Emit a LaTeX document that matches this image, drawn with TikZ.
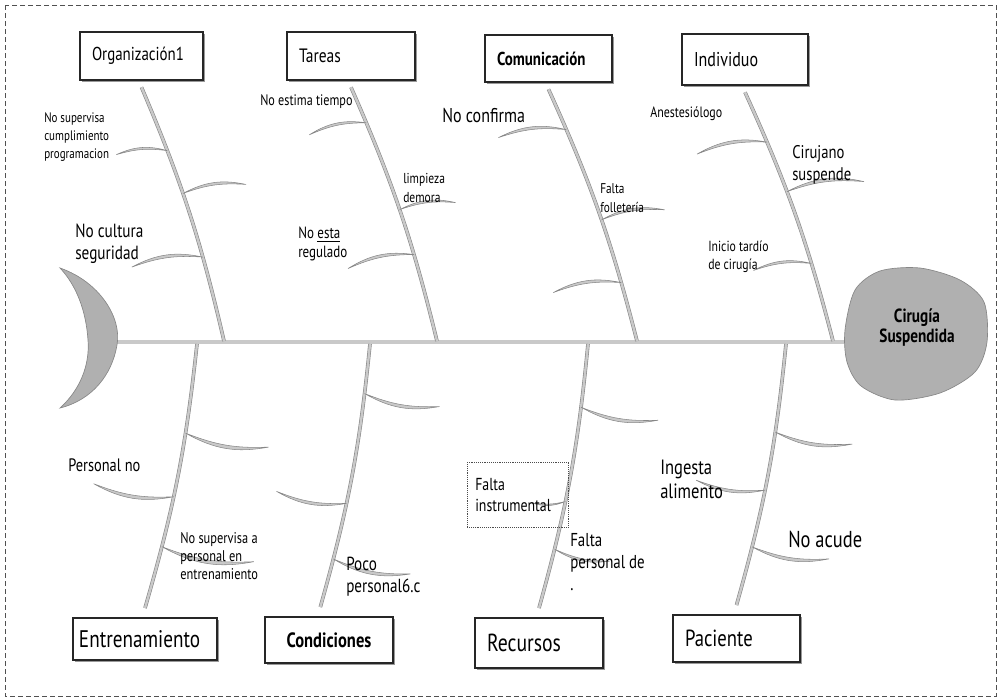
\documentclass[tikz,border=0pt]{standalone}
\usepackage{fontspec}
\setmainfont{PT Sans}[FakeStretch=0.8]
\definecolor{BoneFill}{RGB}{201,201,201}
\definecolor{BoneLine}{RGB}{135,135,135}
\definecolor{HeadFill}{RGB}{176,176,176}
\definecolor{FrameGray}{RGB}{80,80,80}
\usetikzlibrary{positioning,shadows}

\begin{document}
\begin{tikzpicture}[x=0.75pt,y=-0.75pt,
  catbox/.style={draw=black!85,fill=white,line width=0.9pt,inner xsep=9pt,inner ysep=0pt,align=left,
    general shadow={fill=black!40,shadow xshift=1.5pt,shadow yshift=-1.5pt}},
  bone/.style={draw=BoneLine,line width=0.45pt,double=BoneFill,double distance=1.8pt},
  spine/.style={draw=BoneLine,line width=0.5pt,double=BoneFill,double distance=2.6pt},
  rib/.style={draw=BoneLine,fill=BoneFill,line width=0.4pt},
  cause/.style={anchor=north west,inner sep=0pt,align=left}]
  \useasboundingbox (0,0) rectangle (1001,700);
  \draw[FrameGray,line width=0.6pt,dash pattern=on 3.5pt off 2.5pt] (5,5) rectangle (996,696);

  % categories, top row
  \node[catbox,minimum width=92.25pt,minimum height=36pt,text width=74.25pt,font=\fontsize{14}{16}\selectfont] (org) at (141.5,56) {Organización1};
  \node[catbox,minimum width=96pt,minimum height=36pt,text width=78pt,font=\fontsize{14.5}{16}\selectfont] (tar) at (351,56) {Tareas};
  \node[catbox,minimum width=95.25pt,minimum height=35.25pt,text width=77.25pt,font=\bfseries\fontsize{14}{16}\selectfont] (com) at (548.5,58.5) {Comunicación};
  \node[catbox,minimum width=94.5pt,minimum height=38.25pt,text width=76.5pt,font=\fontsize{15}{17}\selectfont] (ind) at (745,59.5) {Individuo};
  % categories, bottom row
  \node[catbox,minimum width=108pt,minimum height=31.5pt,inner xsep=4.5pt,text width=99pt,font=\fontsize{18}{20}\selectfont] (ent) at (145,639) {Entrenamiento};
  \node[catbox,minimum width=96pt,minimum height=34.5pt,text width=78pt,align=center,font=\bfseries\fontsize{15.5}{17}\selectfont] (con) at (329,640) {Condiciones};
  \node[catbox,minimum width=96pt,minimum height=37.5pt,text width=78pt,font=\fontsize{18.5}{20}\selectfont] (rec) at (539,643) {Recursos};
  \node[catbox,minimum width=95.25pt,minimum height=35.25pt,text width=77.25pt,font=\fontsize{17.5}{19}\selectfont] (pac) at (736.5,638.5) {Paciente};

  % bone ends
  \coordinate[below=5pt of org] (orgT);
  \coordinate[below=5pt of tar] (tarT);
  \coordinate[below=5pt of com] (comT);
  \coordinate[below=5pt of ind] (indT);
  \coordinate[above=7pt of ent] (entT);
  \coordinate[above=7pt of con,xshift=-6.5pt] (conT);
  \coordinate[above=7pt of rec] (recT);
  \coordinate[above=7pt of pac] (pacT);
  \coordinate (orgS) at (224,341);
  \coordinate (tarS) at (437,341);
  \coordinate (comS) at (637,341);
  \coordinate (indS) at (833,341);
  \coordinate (entS) at (197,344);
  \coordinate (conS) at (370,344);
  \coordinate (recS) at (588,344);
  \coordinate (pacS) at (786,344);
  \coordinate (tail) at (116,342);
  \coordinate (neck) at (846,342);

  % spine, tail and head
  \draw[spine] (tail) -- (neck);
  \filldraw[fill=HeadFill,draw=BoneLine,line width=0.5pt] (60,268) .. controls (100,282) and (122,318) .. (117,345)
    .. controls (112,375) and (92,400) .. (60,408) .. controls (80,390) and (90,365) .. (88,340)
    .. controls (86,310) and (76,285) .. (60,268) -- cycle;
  \filldraw[fill=HeadFill,draw=BoneLine,line width=0.5pt] plot[smooth cycle] coordinates
    {(845,330) (855,290) (880,271) (920,268) (960,280) (984,302) (987,342) (975,372) (940,393) (895,400) (861,386) (847,362)};
  \node[font=\bfseries\fontsize{14.3}{15}\selectfont,align=center] (head) at (917,328) {Cirugía\\Suspendida};

  % bones
  \draw[bone] (orgT) to[bend left=5] coordinate[pos=0.24] (org1) coordinate[pos=0.42] (org2) coordinate[pos=0.69] (org3) (orgS);
  \draw[bone] (tarT) to[bend left=5] coordinate[pos=0.13] (tar1) coordinate[pos=0.49] (tar2) coordinate[pos=0.68] (tar3) (tarS);
  \draw[bone] (comT) to[bend left=5] coordinate[pos=0.15] (com1) coordinate[pos=0.53] (com2) coordinate[pos=0.79] (com3) (comS);
  \draw[bone] (indT) to[bend left=5] coordinate[pos=0.19] (ind1) coordinate[pos=0.40] (ind2) coordinate[pos=0.71] (ind3) (indS);
  \draw[bone] (entT) to[bend right=5] coordinate[pos=0.68] (ent1) coordinate[pos=0.42] (ent2) coordinate[pos=0.22] (ent3) (entS);
  \draw[bone] (conT) to[bend right=5] coordinate[pos=0.83] (con1) coordinate[pos=0.39] (con2) coordinate[pos=0.17] (con3) (conS);
  \draw[bone] (recT) to[bend right=5] coordinate[pos=0.78] (rec1) coordinate[pos=0.40] (rec2) coordinate[pos=0.21] (rec3) (recS);
  \draw[bone] (pacT) to[bend right=5] coordinate[pos=0.68] (pac1) coordinate[pos=0.44] (pac2) coordinate[pos=0.21] (pac3) (pacS);

  % ribs above the spine
  \filldraw[rib] (org1) to[bend right=20] ++(-51,4) to[bend left=12] (org1) -- cycle;
  \filldraw[rib] (org2) to[bend left=20] ++(63,-9) to[bend right=12] (org2) -- cycle;
  \filldraw[rib] (org3) to[bend right=20] ++(-71,10) to[bend left=12] (org3) -- cycle;
  \filldraw[rib] (tar1) to[bend right=20] ++(-57,12) to[bend left=12] (tar1) -- cycle;
  \filldraw[rib] (tar2) to[bend left=20] ++(56,-7) to[bend right=12] (tar2) -- cycle;
  \filldraw[rib] (tar3) to[bend right=20] ++(-66,14) to[bend left=12] (tar3) -- cycle;
  \filldraw[rib] (com1) to[bend right=20] ++(-68,8) to[bend left=12] (com1) -- cycle;
  \filldraw[rib] (com2) to[bend left=20] ++(63,-10) to[bend right=12] (com2) -- cycle;
  \filldraw[rib] (com3) to[bend right=20] ++(-68,10) to[bend left=12] (com3) -- cycle;
  \filldraw[rib] (ind1) to[bend right=20] ++(-70,12) to[bend left=12] (ind1) -- cycle;
  \filldraw[rib] (ind2) to[bend left=20] ++(77,-10) to[bend right=12] (ind2) -- cycle;
  \filldraw[rib] (ind3) to[bend right=20] ++(-58,7) to[bend left=12] (ind3) -- cycle;
  % ribs below the spine
  \filldraw[rib] (ent1) to[bend right=20] ++(83,14) to[bend left=12] (ent1) -- cycle;
  \filldraw[rib] (ent2) to[bend left=20] ++(-80,-13) to[bend right=12] (ent2) -- cycle;
  \filldraw[rib] (ent3) to[bend right=20] ++(92,15) to[bend left=12] (ent3) -- cycle;
  \filldraw[rib] (con1) to[bend right=20] ++(75,13) to[bend left=12] (con1) -- cycle;
  \filldraw[rib] (con2) to[bend left=20] ++(-70,-12) to[bend right=12] (con2) -- cycle;
  \filldraw[rib] (con3) to[bend right=20] ++(77,15) to[bend left=12] (con3) -- cycle;
  \filldraw[rib] (rec1) to[bend right=20] ++(77,13) to[bend left=12] (rec1) -- cycle;
  \filldraw[rib] (rec2) to[bend left=20] ++(-35,1) to[bend right=12] (rec2) -- cycle;
  \filldraw[rib] (rec3) to[bend right=20] ++(55,12) to[bend left=12] (rec3) -- cycle;
  \filldraw[rib] (pac1) to[bend right=20] ++(77,12) to[bend left=12] (pac1) -- cycle;
  \filldraw[rib] (pac2) to[bend left=20] ++(-69,-10) to[bend right=12] (pac2) -- cycle;
  \filldraw[rib] (pac3) to[bend right=20] ++(77,12) to[bend left=12] (pac3) -- cycle;

  % causes
  \node[cause,font=\fontsize{10.3}{13.5}\selectfont] (orgA) at (44,112) {No supervisa\\cumplimiento\\programacion};
  \node[cause,font=\fontsize{14.3}{16.5}\selectfont] (orgC) at (75,224) {No cultura\\seguridad};
  \node[cause,font=\fontsize{11.4}{13}\selectfont] (tarA) at (260,94) {No estima tiempo};
  \node[cause,font=\fontsize{10.8}{14.25}\selectfont] (tarB) at (403,173) {limpieza\\demora};
  \node[cause,font=\fontsize{12.2}{14.25}\selectfont] (tarC) at (298,227) {No \underline{esta}\\regulado};
  \node[cause,font=\fontsize{15}{16}\selectfont] (comA) at (442,108) {No confirma};
  \node[cause,font=\fontsize{10.6}{14.25}\selectfont] (comB) at (600,183) {Falta\\folletería};
  \node[cause,font=\fontsize{11.2}{13}\selectfont] (indA) at (650,106) {Anestesiólogo};
  \node[cause,font=\fontsize{13.75}{16.5}\selectfont] (indB) at (792,145) {Cirujano\\suspende};
  \node[cause,font=\fontsize{11}{13.5}\selectfont] (indC) at (708,241) {Inicio tardío\\de cirugía};
  \node[cause,font=\fontsize{13.5}{15}\selectfont] (entB) at (68,458) {Personal no};
  \node[cause,font=\fontsize{11.6}{13.5}\selectfont] (entC) at (180,532) {No supervisa a\\personal en\\entrenamiento};
  \node[cause,font=\fontsize{14.2}{16.5}\selectfont] (conC) at (346,557) {Poco\\personal6.c};
  \node[cause,draw=black!70,densely dotted,inner sep=6pt,minimum width=75.75pt,minimum height=48.75pt,text width=63.75pt,font=\fontsize{13}{16}\selectfont] (recB) at (467,462) {Falta\\instrumental};
  \node[cause,font=\fontsize{14}{16.5}\selectfont] (recC) at (570,533) {Falta\\personal de\\.};
  \node[cause,font=\fontsize{15.5}{18}\selectfont] (pacB) at (660,460) {Ingesta\\alimento};
  \node[cause,font=\fontsize{17.3}{19}\selectfont] (pacC) at (788,531) {No acude};
\end{tikzpicture}
\end{document}
